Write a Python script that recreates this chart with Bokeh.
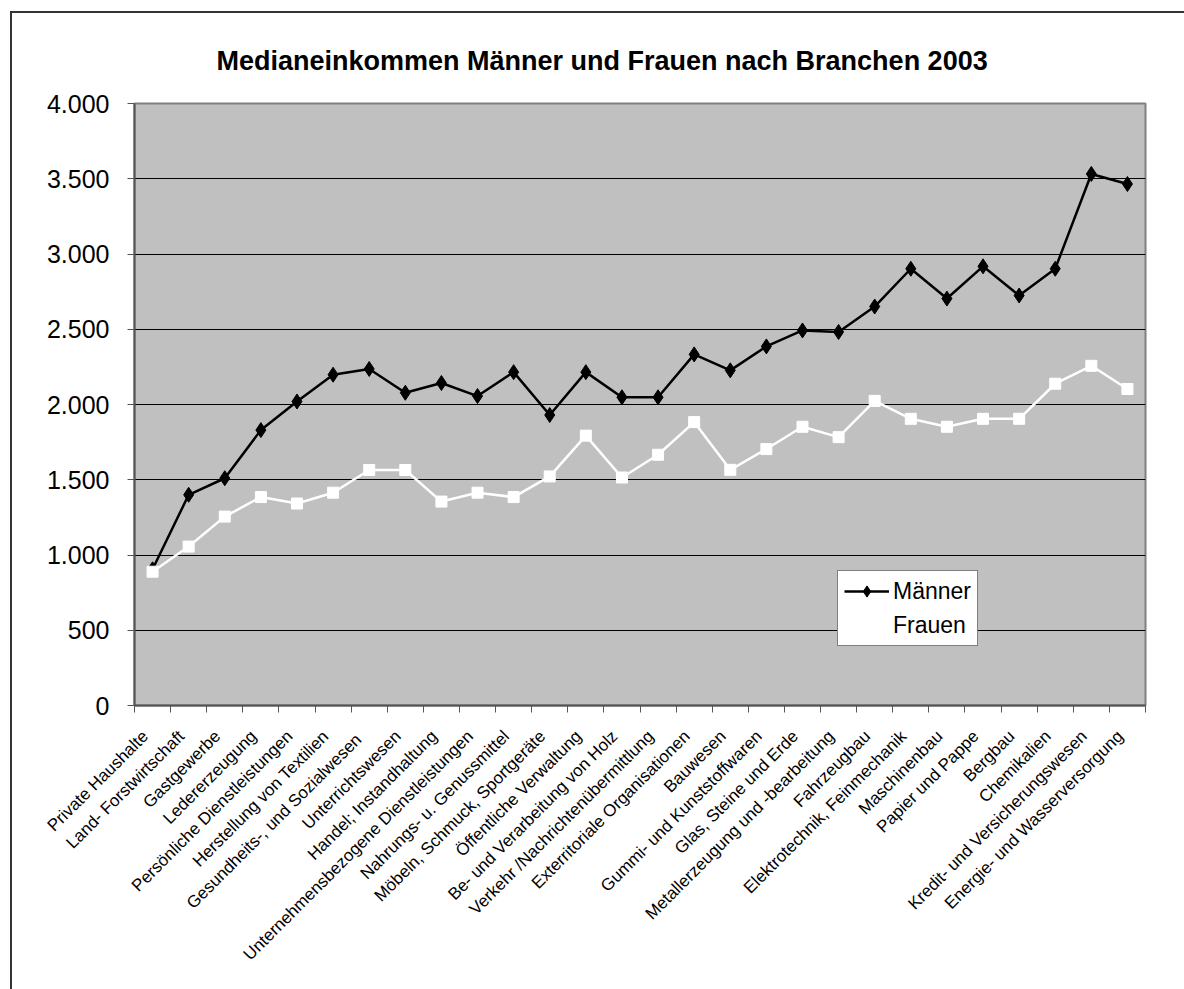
from bokeh.plotting import figure
from bokeh.models import FixedTicker, CustomJSTickFormatter, ColumnDataSource, Legend, LegendItem, Range1d
from bokeh.embed import file_html
from bokeh.resources import INLINE
import math

categories = [
    "Private Haushalte", "Land- Forstwirtschaft", "Gastgewerbe", "Ledererzeugung",
    "Persönliche Dienstleistungen", "Herstellung von Textilien",
    "Gesundheits-,  und Sozialwesen", "Unterrichtswesen", "Handel; Instandhaltung",
    "Unternehmensbezogene Dienstleistungen", "Nahrungs- u. Genussmittel",
    "Möbeln, Schmuck, Sportgeräte", "Öffentliche Verwaltung",
    "Be- und Verarbeitung von Holz", "Verkehr /Nachrichtenübermittlung",
    "Exterritoriale Organisationen", "Bauwesen", "Gummi- und Kunststoffwaren",
    "Glas, Steine und Erde", "Metallerzeugung und -bearbeitung", "Fahrzeugbau",
    "Elektrotechnik, Feinmechanik", "Maschinenbau", "Papier und Pappe", "Bergbau",
    "Chemikalien", "Kredit- und Versicherungswesen", "Energie- und Wasserversorgung",
]
maenner = [905, 1400, 1510, 1830, 2020, 2198, 2236, 2078, 2143, 2056, 2215, 1930,
           2215, 2048, 2048, 2333, 2227, 2386, 2492, 2482, 2651, 2902, 2704, 2918,
           2724, 2902, 3532, 3465]
frauen = [889, 1056, 1255, 1385, 1342, 1414, 1565, 1565, 1355, 1414, 1385, 1522,
          1793, 1515, 1666, 1883, 1566, 1704, 1852, 1783, 2024, 1905, 1852, 1905,
          1905, 2138, 2257, 2103]
y_ticks = [0, 500, 1000, 1500, 2000, 2500, 3000, 3500, 4000]
title_text = "Medianeinkommen Männer und Frauen nach Branchen 2003"

n = len(categories)
xs = [i + 0.5 for i in range(n)]
label_pos = [i + 0.3 for i in range(n)]
src = ColumnDataSource(dict(x=xs, m=maenner, f=frauen))

p = figure(width=1184, height=989, output_backend="svg", toolbar_location=None,
           x_range=Range1d(0, n), y_range=Range1d(0, 4000),
           min_border_left=134, min_border_right=39, min_border_top=103, min_border_bottom=284)

p.background_fill_color = "#C0C0C0"
p.border_fill_color = None
p.outline_line_color = "#808080"
p.outline_line_width = 2
p.styles = {
    "background": "linear-gradient(#333333, #333333) 10px 11px / 2px 100% no-repeat, "
                  "linear-gradient(#333333, #333333) 10px 11px / 100% 2px no-repeat",
}

p.title.text = title_text
p.title.text_font = "Liberation Sans"
p.title.text_font_size = "27px"
p.title.text_font_style = "bold"
p.title.align = "left"
p.title.offset = 82
p.title.standoff = 55
p.title.text_color = "black"

# grid
p.xgrid.visible = False
p.ygrid.grid_line_color = "black"
p.ygrid.grid_line_width = 1
p.ygrid.ticker = FixedTicker(ticks=y_ticks)

# y axis
p.yaxis.ticker = FixedTicker(ticks=y_ticks)
p.yaxis.formatter = CustomJSTickFormatter(
    code="return tick.toFixed(0).replace(/\\B(?=(\\d{3})+(?!\\d))/g, '.');")
p.yaxis.major_label_text_font = "Liberation Sans"
p.yaxis.major_label_text_font_size = "25px"
p.yaxis.major_label_text_color = "black"
p.yaxis.axis_line_color = "#555555"
p.yaxis.axis_line_width = 2
p.yaxis.major_tick_line_color = "#555555"
p.yaxis.major_tick_out = 7
p.yaxis.major_tick_in = 0
p.yaxis.minor_tick_line_color = None
p.yaxis.major_label_standoff = 18

# x axis
p.xaxis.ticker = FixedTicker(ticks=label_pos, minor_ticks=list(range(n + 1)))
p.xaxis.major_label_overrides = {x: c for x, c in zip(label_pos, categories)}
p.xaxis.major_label_orientation = math.pi / 4
p.xaxis.major_label_text_font = "Liberation Sans"
p.xaxis.major_label_text_font_size = "17px"
p.xaxis.major_label_text_color = "black"
p.xaxis.axis_line_color = "#555555"
p.xaxis.axis_line_width = 2
p.xaxis.major_tick_out = 0
p.xaxis.major_tick_in = 0
p.xaxis.major_tick_line_color = None
p.xaxis.minor_tick_out = 7
p.xaxis.minor_tick_in = 0
p.xaxis.minor_tick_line_color = "#555555"
p.xaxis.minor_tick_line_width = 1
p.xaxis.major_label_standoff = 21

lm = p.line("x", "m", source=src, line_color="black", line_width=2.5)
sm = p.scatter("x", "m", source=src, marker="diamond", size=15, fill_color="black", line_color="black")
lf = p.line("x", "f", source=src, line_color="white", line_width=2.5)
sf = p.scatter("x", "f", source=src, marker="square", size=11, fill_color="white", line_color="white")

legend = Legend(items=[LegendItem(label="Männer", renderers=[lm, sm]),
                       LegendItem(label="Frauen", renderers=[lf, sf])],
                location=(703, 59))
legend.label_text_font = "Liberation Sans"
legend.label_text_font_size = "23px"
legend.label_text_color = "black"
legend.glyph_width = 45
legend.glyph_height = 28
legend.label_standoff = 4
legend.padding = 6
legend.spacing = 6
legend.margin = 0
legend.border_line_color = "black"
legend.border_line_width = 1
legend.background_fill_color = "white"
legend.background_fill_alpha = 1
p.add_layout(legend, "center")

open("out.html", "w").write(file_html(p, INLINE))
